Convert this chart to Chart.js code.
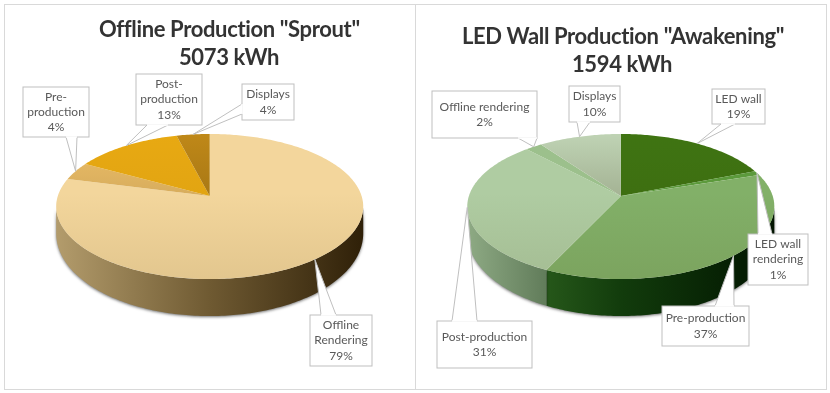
<!DOCTYPE html>
<html>
<head>
<meta charset="utf-8">
<script src="https://cdn.jsdelivr.net/npm/chart.js@4"></script>
<style>
    html, body { margin: 0; padding: 0; background: #fff; }
    #page { position: relative; width: 830px; height: 393px; overflow: hidden; filter: blur(0.4px); }
    .panel { position: absolute; top: 4px; width: 410px; height: 384px; border: 1px solid #d9d9d9; }
    canvas { position: absolute; top: 0; }
    .title { position: absolute; text-align: center; font: bold 22px/28px Lato, sans-serif; letter-spacing: -0.36px; color: #333; white-space: nowrap; }
</style>
</head>
<body>
<div id="page">
    <div class="panel" style="left:4px"></div>
    <div class="panel" style="left:415px"></div>
    <div style="position:absolute;left:0;width:415px;height:393px"><canvas id="sprout"></canvas></div>
    <div style="position:absolute;left:415px;width:415px;height:393px"><canvas id="awakening"></canvas></div>
    <div class="title" style="left:99px;width:260px;top:15px">Offline Production "Sprout"<br>5073 kWh</div>
    <div class="title" style="left:462px;width:320px;top:22px">LED Wall Production "Awakening"<br>1594 kWh</div>
</div>
<script>
// Donnees
const sproutLabels = ['Offline\nRendering', 'Pre-\nproduction', 'Post-\nproduction', 'Displays'];
const sproutValues = [79, 4, 13, 4];
const sproutColors = ['#f3d69c', '#efc069', '#e8a912', '#bf8818'];

const awakeningLabels = ['LED wall', 'LED wall\nrendering', 'Pre-production', 'Post-production', 'Offline rendering', 'Displays'];
const awakeningValues = [19, 1, 37, 31, 2, 10];
const awakeningColors = ['#3f7412', '#5c9a3c', '#82b068', '#afcca2', '#9cc08c', '#bfd3b4'];

// Styles : degrades du flanc et assombrissement vers le centre
const sproutSides = [['#b39c6c', '#6f5a32', '#2f2008']];
const awakeningSides = [['#3a7428', '#123c0c', '#011400'], ['#8eaa84', '#617c5a']];
const sproutShade = [0, 0.12, 0.03, 0.15];
const awakeningShade = [0.06, 0, 0, 0, 0, 0.18];

// Cadres des etiquettes : [x, y, largeur, hauteur], puis la base de la pointe sur le cadre
const sproutBoxes = [
    { box: [310, 315, 62, 51], base: [[321, 315], [336, 315]] },
    { box: [23, 87, 66, 50], base: [[66, 137], [77, 137]] },
    { box: [136, 74, 66, 51], base: [[147, 125], [168, 125]] },
    { box: [242, 84, 52, 36], base: [[242, 104], [242, 114]] }
];
const awakeningBoxes = [
    { box: [297, 89, 53, 35], base: [[306, 124], [320, 124]] },
    { box: [333, 234, 60, 51], base: [[343, 234], [357, 234]] },
    { box: [247, 306, 87, 40], base: [[300, 306], [319, 306]] },
    { box: [22, 321, 95, 47], base: [[37, 321], [62, 321]] },
    { box: [17, 91, 105, 47], base: [[103, 138], [122, 138]] },
    { box: [154, 86, 51, 36], base: [[162, 122], [175, 122]] }
];

// Projection en perspective du disque
const K = 0.145;
const RX = 151.9;
const RY = 71;
const APEX_Y = 196;

function project(angle, cx) {
    const u = Math.cos(angle);
    const v = Math.sin(angle);
    const w = 1 - K * v;
    return [cx + RX * u / w, APEX_Y + RY * v / w, v];
}

function depthAt(v) {
    return 25 + 12 * v;
}

function topPath(ctx, start, end, cx) {
    ctx.beginPath();
    ctx.moveTo(cx, APEX_Y);
    const n = Math.max(2, Math.ceil((end - start) * 60));
    for (let i = 0; i <= n; i++) {
        const p = project(start + (end - start) * i / n, cx);
        ctx.lineTo(p[0], p[1]);
    }
    ctx.closePath();
}

function sidePath(ctx, start, end, cx) {
    const n = Math.max(2, Math.ceil((end - start) * 60));
    ctx.beginPath();
    for (let i = 0; i <= n; i++) {
        const p = project(start + (end - start) * i / n, cx);
        ctx.lineTo(p[0], p[1]);
    }
    for (let i = n; i >= 0; i--) {
        const p = project(start + (end - start) * i / n, cx);
        ctx.lineTo(p[0], p[1] + depthAt(p[2]));
    }
    ctx.closePath();
}

// Plugin : dessine les arcs calcules par Chart.js en faux 3D, puis les etiquettes
const pie3d = {
    id: 'pie3d',
    beforeDatasetsDraw(chart, args, opts) {
        const ctx = chart.ctx;
        const arcs = chart.getDatasetMeta(0).data;
        const cx = opts.cx;
        const frontStart = Math.asin(K);
        const frontEnd = Math.PI - frontStart;

        // Flanc visible
        ctx.save();
        let sideIndex = 0;
        const leftX = project(frontEnd, cx)[0];
        arcs.forEach(arc => {
            const start = Math.max(arc.startAngle, frontStart);
            const end = Math.min(arc.endAngle, frontEnd);
            if (end <= start) return;
            const stops = opts.sides[sideIndex++];
            const grad = ctx.createLinearGradient(leftX, 0, project(Math.abs(end - frontEnd) < 0.001 && start > frontStart ? start : frontStart, cx)[0], 0);
            stops.forEach((c, i) => grad.addColorStop(i / (stops.length - 1), c));
            sidePath(ctx, start, end, cx);
            ctx.fillStyle = grad;
            ctx.shadowColor = 'rgba(0,0,0,0.55)';
            ctx.shadowBlur = 3;
            ctx.shadowOffsetY = 1;
            ctx.fill();
        });
        ctx.restore();

        // Dessus
        arcs.forEach((arc, i) => {
            topPath(ctx, arc.startAngle, arc.endAngle, cx);
            ctx.fillStyle = arc.options.backgroundColor;
            ctx.fill();
            const shade = ctx.createLinearGradient(0, 134, 0, 280);
            shade.addColorStop(0, 'rgba(60,40,0,0)');
            shade.addColorStop(0.4, 'rgba(60,40,0,0)');
            shade.addColorStop(1, 'rgba(60,40,0,0.09)');
            ctx.fillStyle = shade;
            ctx.fill();
            if (opts.shade[i] > 0) {
                const toApex = ctx.createLinearGradient(0, 134, 0, APEX_Y);
                toApex.addColorStop(0, 'rgba(40,30,0,0)');
                toApex.addColorStop(1, 'rgba(40,30,0,' + opts.shade[i] + ')');
                ctx.fillStyle = toApex;
                ctx.fill();
            }
        });
        return false;
    },
    // afterDatasetsDraw n'est pas appele quand beforeDatasetsDraw renvoie false
    afterDraw(chart, args, opts) {
        const ctx = chart.ctx;
        const arcs = chart.getDatasetMeta(0).data;
        const values = chart.data.datasets[0].data;
        ctx.save();
        ctx.font = '12px Lato, sans-serif';
        ctx.textAlign = 'center';
        ctx.textBaseline = 'middle';
        opts.boxes.forEach((item, i) => {
            const mid = (arcs[i].startAngle + arcs[i].endAngle) / 2;
            const tip = project(mid, opts.cx);
            const [x, y, w, h] = item.box;

            ctx.fillStyle = '#fff';
            ctx.strokeStyle = '#bfbfbf';
            ctx.lineWidth = 1;
            ctx.fillRect(x, y, w, h);
            ctx.strokeRect(x, y, w, h);

            // Pointe de l'etiquette vers le milieu de la part
            ctx.beginPath();
            ctx.moveTo(item.base[0][0], item.base[0][1]);
            ctx.lineTo(tip[0], tip[1]);
            ctx.lineTo(item.base[1][0], item.base[1][1]);
            ctx.fill();
            ctx.stroke();
            // efface le trait du cadre sous la pointe
            ctx.beginPath();
            ctx.moveTo(item.base[0][0], item.base[0][1]);
            ctx.lineTo(item.base[1][0], item.base[1][1]);
            ctx.strokeStyle = '#fff';
            ctx.lineWidth = 1.5;
            ctx.stroke();

            const lines = chart.data.labels[i].split('\n').concat(values[i] + '%');
            const top = y + h / 2 - (lines.length - 1) * 15.3 / 2;
            ctx.fillStyle = '#595959';
            lines.forEach((line, j) => ctx.fillText(line, x + w / 2, top + j * 15.3));
        });
        ctx.restore();
    }
};

function createPie3d(id, labels, values, colors, sides, shade, boxes, cx) {
    return new Chart(document.getElementById(id), {
        type: 'pie',
        data: {
            labels: labels,
            datasets: [{ data: values, backgroundColor: colors, borderWidth: 0 }]
        },
        options: {
            responsive: false,
            animation: false,
            plugins: {
                legend: { display: false },
                tooltip: { enabled: false },
                pie3d: { cx: cx, sides: sides, shade: shade, boxes: boxes }
            }
        },
        plugins: [pie3d]
    });
}

for (const id of ['sprout', 'awakening']) {
    const c = document.getElementById(id);
    c.width = 415;
    c.height = 393;
}
createPie3d('sprout', sproutLabels, sproutValues, sproutColors, sproutSides, sproutShade, sproutBoxes, 209.7);
createPie3d('awakening', awakeningLabels, awakeningValues, awakeningColors, awakeningSides, awakeningShade, awakeningBoxes, 205.8);
</script>
</body>
</html>
